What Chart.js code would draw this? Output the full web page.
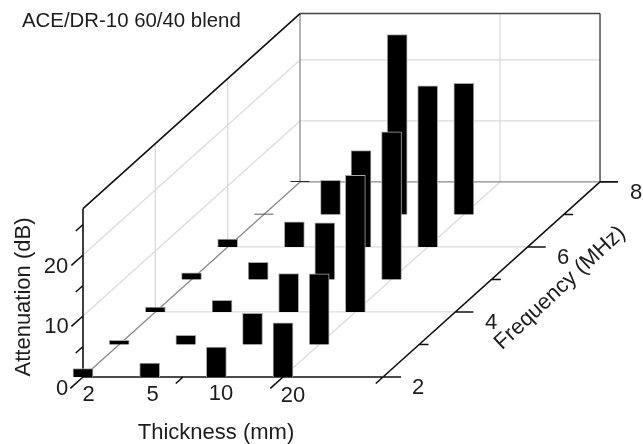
<!DOCTYPE html>
<html>
<head>
<meta charset="utf-8">
<style>html,body{margin:0;padding:0;background:#fff}canvas{display:block}</style>
<script src="https://cdn.jsdelivr.net/npm/chart.js@4"></script>
</head>
<body>
<canvas id="c" width="643" height="444"></canvas>
<script>
// ---- data ----
const chartTitle = 'ACE/DR-10 60/40 blend';
const thicknessLabels = ['2', '5', '10', '20'];
const frequencies = [2, 3, 4, 5, 6, 7, 8];
const attenuationT2  = [1.4, 0.7, 0.8, 1.1, 1.3, 0.1, 0.1];
const attenuationT5  = [2.3, 1.5, 1.9, 2.8, 4.1, 5.6, null];
const attenuationT10 = [4.9, 5.1, 6.3, 9.3, 15.8, 29.5, null];
const attenuationT20 = [8.9, 11.6, 22.4, 24.2, 26.4, 21.5, null];
const series = [attenuationT2, attenuationT5, attenuationT10, attenuationT20];
const attenuationMajor = [0, 10, 20];
const attenuationMinor = [5, 15, 25];
const frequencyMajor = [2, 4, 6, 8];
const frequencyMinor = [3, 5, 7];
const thicknessMajorTicks = [0, 3];
const thicknessMinorTicks = [1.5, 4.5];

// ---- oblique projection onto the two chart scales ----
const T_END = 4.5, Z_TOP = 27.6;
const DEPTH_X = 0.5425, DEPTH_Y = 5.33;
const px = (t, f) => t + DEPTH_X * (f - 2);
const py = (f, z) => z + DEPTH_Y * (f - 2);
const P = (t, f, z) => ({x: px(t, f), y: py(f, z)});
const GAP = {x: NaN, y: NaN};
const segs = list => list.flatMap(s => [P(...s[0]), P(...s[1]), GAP]);

// bars, back to front
const bars = [];
for (let fi = frequencies.length - 1; fi >= 0; fi--) {
  series.forEach((vals, ti) => {
    const v = vals[fi];
    if (v === null) return;
    const f = frequencies[fi];
    bars.push({x: px(ti, f), y: [py(f, 0), py(f, v)]});
  });
}

// light grid
const gridSegs = [];
[10, 20].forEach(z => {
  gridSegs.push([[0, 2, z], [0, 8, z]]);
  gridSegs.push([[0, 8, z], [T_END, 8, z]]);
});
[4, 6].forEach(f => {
  gridSegs.push([[0, f, 0], [0, f, Z_TOP]]);
  gridSegs.push([[0, f, 0], [T_END, f, 0]]);
});
gridSegs.push([[3, 2, 0], [3, 8, 0]]);
gridSegs.push([[3, 8, 0], [3, 8, Z_TOP]]);

const midSegs = [
  [[0, 2, 0], [0, 8, 0]],
  [[0, 8, 0], [T_END, 8, 0]],
  [[0, 8, 0], [0, 8, Z_TOP]]
];
const darkSegs = [
  [[0, 8, Z_TOP], [T_END, 8, Z_TOP]],
  [[T_END, 8, Z_TOP], [T_END, 8, 0]]
];
const axisSegs = [
  [[0, 2, 0], [T_END, 2, 0]],
  [[0, 2, 0], [0, 2, Z_TOP]],
  [[0, 2, Z_TOP], [0, 8, Z_TOP]],
  [[T_END, 2, 0], [T_END, 8, 0]]
];
attenuationMajor.forEach(z => axisSegs.push([[0, 2, z], [0, 1.68, z]]));
attenuationMinor.forEach(z => axisSegs.push([[0, 2, z], [0, 1.8, z]]));
thicknessMajorTicks.forEach(t => axisSegs.push([[t, 2, 0], [t, 1.65, 0]]));
thicknessMinorTicks.forEach(t => axisSegs.push([[t, 2, 0], [t, 1.8, 0]]));
frequencyMajor.forEach(f => axisSegs.push([[T_END, f, 0], [T_END + 0.27, f, 0]]));
frequencyMinor.forEach(f => axisSegs.push([[T_END, f, 0], [T_END + 0.14, f, 0]]));

const lineSet = (list, color, width, order) => ({
  type: 'line', data: segs(list), borderColor: color, borderWidth: width,
  pointRadius: 0, spanGaps: false, tension: 0, fill: false, order
});

const FONT = '"Liberation Sans", Arial, sans-serif';
const textPlugin = {
  id: 'labels',
  afterDatasetsDraw(chart) {
    const c = chart.ctx;
    const put = (s, x, y, size, rot, align) => {
      c.save();
      c.translate(x, y);
      if (rot) c.rotate(rot);
      c.font = size + 'px ' + FONT;
      c.fillStyle = '#1c1c1c';
      c.textAlign = align || 'center';
      c.textBaseline = 'middle';
      c.fillText(s, 0, 0);
      c.restore();
    };
    put(chartTitle, 22, 21, 20.4, 0, 'left');
    put('Attenuation (dB)', 24, 297, 22, -Math.PI / 2);
    put('Thickness (mm)', 216, 433, 22);
    put('Frequency (MHz)', 560, 288, 22, -43 * Math.PI / 180);
    const zPos = [[62, 389], [56.5, 326.5], [56, 266.5]];
    attenuationMajor.forEach((z, i) => put(String(z), zPos[i][0], zPos[i][1], 22));
    const tPos = [[88.5, 395], [152.7, 395], [221, 393.5], [293, 396]];
    thicknessLabels.forEach((s, i) => put(s, tPos[i][0], tPos[i][1], 22));
    const fPos = [[418, 388], [491, 323], [563, 257.5], [636, 192.5]];
    frequencyMajor.forEach((f, i) => put(String(f), fPos[i][0], fPos[i][1], 22));
  }
};

new Chart(document.getElementById('c'), {
  type: 'bar',
  data: {
    datasets: [
      {type: 'bar', data: bars, backgroundColor: '#000', borderColor: '#a8a8a8', borderWidth: 1,
       barThickness: 20, grouped: false, order: 0},
      lineSet(axisSegs, '#111', 1.6, 1),
      lineSet(darkSegs, '#444', 1.4, 2),
      lineSet(midSegs, '#8a8a8a', 1.3, 3),
      lineSet(gridSegs, '#dcdcdc', 1.3, 4)
    ]
  },
  options: {
    responsive: false,
    animation: false,
    layout: {padding: 0},
    plugins: {legend: {display: false}, tooltip: {enabled: false}, title: {display: false}},
    scales: {
      x: {type: 'linear', display: false, offset: false, min: -83 / 66.67, max: 560 / 66.67},
      y: {type: 'linear', display: false, min: -67 / 6.1, max: 377 / 6.1}
    }
  },
  plugins: [textPlugin]
});
</script>
</body>
</html>
